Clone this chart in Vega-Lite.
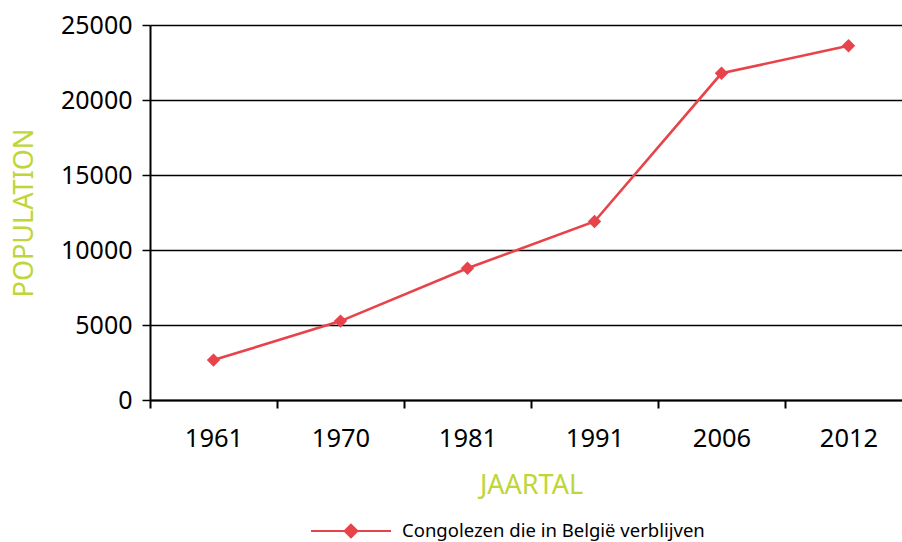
{
  "$schema": "https://vega.github.io/schema/vega-lite/v6.json",
  "autosize": {"type": "none"},
  "width": 752,
  "height": 375,
  "padding": {"left": 150, "top": 25, "right": 0, "bottom": 142},
  "background": "white",
  "config": {
    "view": {"stroke": null},
    "font": "Noto Sans"
  },
  "data": {
    "values": [
      {"jaar": "1961", "pop": 2660, "reeks": "Congolezen die in België verblijven"},
      {"jaar": "1970", "pop": 5260, "reeks": "Congolezen die in België verblijven"},
      {"jaar": "1981", "pop": 8780, "reeks": "Congolezen die in België verblijven"},
      {"jaar": "1991", "pop": 11900, "reeks": "Congolezen die in België verblijven"},
      {"jaar": "2006", "pop": 21780, "reeks": "Congolezen die in België verblijven"},
      {"jaar": "2012", "pop": 23620, "reeks": "Congolezen die in België verblijven"}
    ]
  },
  "mark": {"type": "line", "strokeWidth": 2.6, "point": {"shape": "diamond", "size": 180, "filled": true, "opacity": 1}},
  "encoding": {
    "x": {
      "field": "jaar",
      "type": "ordinal",
      "scale": {"paddingInner": 0, "paddingOuter": 0, "range": [0, 762]},
      "axis": {
        "title": "JAARTAL",
        "titleColor": "#bed638",
        "titleFontSize": 27,
        "titleFontWeight": "normal",
        "titlePadding": 21,
        "labelAngle": 0,
        "labelFontSize": 25.5,
        "labelColor": "black",
        "labelPadding": 18,
        "tickBand": "extent",
        "tickSize": 8,
        "tickColor": "black",
        "tickWidth": 2,
        "domainColor": "black",
        "domainWidth": 2,
        "grid": false
      }
    },
    "y": {
      "field": "pop",
      "type": "quantitative",
      "scale": {"domain": [0, 25000], "nice": false},
      "axis": {
        "title": "POPULATION",
        "titleColor": "#bed638",
        "titleFontSize": 27,
        "titleFontWeight": "normal",
        "titlePadding": 22,
        "values": [0, 5000, 10000, 15000, 20000, 25000],
        "format": "d",
        "labelFontSize": 25,
        "labelColor": "black",
        "labelPadding": 10,
        "tickSize": 8,
        "tickColor": "black",
        "tickWidth": 1.5,
        "domainColor": "black",
        "domainWidth": 2,
        "grid": true,
        "gridColor": "black",
        "gridWidth": 1.5,
        "gridOpacity": 1
      }
    },
    "color": {
      "field": "reeks",
      "type": "nominal",
      "scale": {"range": ["#e8434a"]},
      "legend": {
        "title": null,
        "orient": "none",
        "legendX": 160,
        "legendY": 465,
        "symbolType": "M-1,0H1M0,-0.16L0.16,0L0,0.16L-0.16,0Z",
        "symbolSize": 6400,
        "symbolStrokeWidth": 2,
        "symbolFillColor": "#e8434a",
        "symbolStrokeColor": "#e8434a",
        "labelFontSize": 18.5,
        "labelLimit": 0,
        "labelColor": "black",
        "labelOffset": 10
      }
    }
  }
}
